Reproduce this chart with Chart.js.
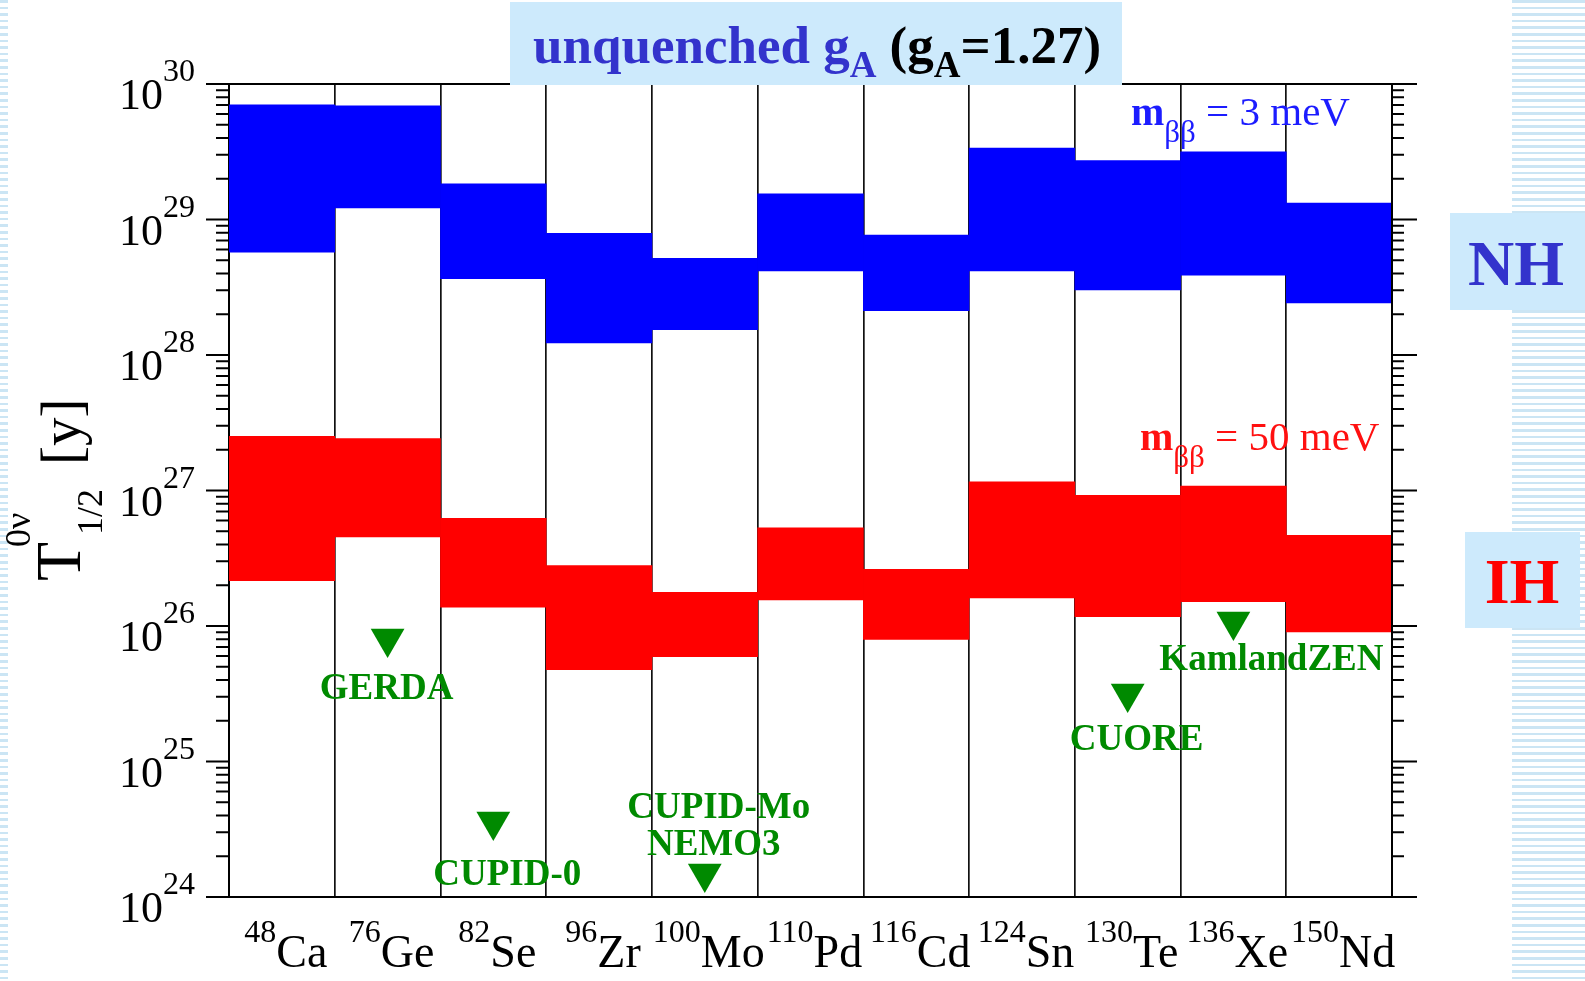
<!DOCTYPE html>
<html>
<head>
<meta charset="utf-8">
<script src="https://cdn.jsdelivr.net/npm/chart.js@4.4.1/dist/chart.umd.min.js"></script>
<style>
  html, body { margin: 0; padding: 0; background: #fff; }
  #wrap { position: relative; width: 1585px; height: 981px; overflow: hidden; background: #fff; }
  .stripes {
    position: absolute; top: 0; height: 981px;
    background: repeating-linear-gradient(to bottom, #cbe5f4 0px, #cbe5f4 2.6px, #ffffff 2.6px, #ffffff 6.6px);
  }
  #stripeLeft { left: 0; width: 8px; }
  #stripeRight { left: 1512px; width: 73px; }
  canvas { position: absolute; left: 0; top: 0; }
</style>
</head>
<body>
<div id="wrap">
  <div class="stripes" id="stripeLeft"></div>
  <div class="stripes" id="stripeRight"></div>
  <canvas id="c" width="1585" height="981"></canvas>
</div>
<script>
// Isotopes (mass number + element symbol)
const massNumbers = ['48', '76', '82', '96', '100', '110', '116', '124', '130', '136', '150'];
const elements    = ['Ca', 'Ge', 'Se', 'Zr', 'Mo', 'Pd', 'Cd', 'Sn', 'Te', 'Xe', 'Nd'];
const isotopes = elements.map((el, i) => massNumbers[i] + el);

// Normal hierarchy band, m_bb = 3 meV: half-life range in years
const nhLow  = [5.75e28, 1.22e29, 3.66e28, 1.23e28, 1.54e28, 4.17e28, 2.12e28, 4.17e28, 3.02e28, 3.89e28, 2.42e28];
const nhHigh = [7.03e29, 6.89e29, 1.83e29, 7.89e28, 5.16e28, 1.55e29, 7.69e28, 3.37e29, 2.72e29, 3.16e29, 1.32e29];

// Inverted hierarchy band, m_bb = 50 meV
const ihLow  = [2.16e26, 4.54e26, 1.38e26, 4.76e25, 5.93e25, 1.56e26, 7.96e25, 1.61e26, 1.17e26, 1.51e26, 9.06e25];
const ihHigh = [2.51e27, 2.42e27, 6.22e26, 2.79e26, 1.77e26, 5.31e26, 2.62e26, 1.16e27, 9.20e26, 1.08e27, 4.66e26];

// Experimental lower limits
const limitValues = [null, 8.1e25, 3.6e24, null, 1.49e24, null, null, null, 3.18e25, 1.08e26, null];
const limitNames  = [null, ['GERDA'], ['CUPID-0'], null, ['CUPID-Mo', 'NEMO3'], null, null, null, ['CUORE'], ['KamlandZEN'], null];

// Decade exponents of the y axis
const yExponents = [24, 25, 26, 27, 28, 29, 30];

const SERIF = '"Liberation Serif", "Times New Roman", serif';
const fnt = (size, bold) => (bold ? 'bold ' : '') + size + 'px ' + SERIF;

function drawRun(ctx, x, y, pieces) {
  let cx = x;
  for (const p of pieces) {
    ctx.font = fnt(p.size, p.bold);
    ctx.fillStyle = p.color;
    ctx.fillText(p.text, cx, y + (p.dy || 0));
    cx += ctx.measureText(p.text).width;
  }
  return cx;
}

// label placement around each limit marker: [dx, dy] per line
const limitLabelOffsets = {
  1: [[-1, 61]],
  2: [[14, 63]],
  4: [[14, -56], [9, -19]],
  8: [[9, 57]],
  9: [[38, 49]]
};

const decorations = {
  id: 'decorations',
  afterDraw(chart) {
    const { ctx, chartArea: a, scales: { x, y } } = chart;
    ctx.save();
    ctx.textBaseline = 'alphabetic';
    ctx.textAlign = 'left';

    // frame (top, right, bottom extensions) and log ticks on both sides
    ctx.strokeStyle = '#000';
    ctx.lineWidth = 2;
    ctx.beginPath();
    ctx.moveTo(a.left - 23, a.top); ctx.lineTo(a.right + 25, a.top);
    ctx.moveTo(a.right, a.top); ctx.lineTo(a.right, a.bottom);
    ctx.moveTo(a.left - 23, a.bottom); ctx.lineTo(a.right + 25, a.bottom);
    for (let e = yExponents[0]; e < yExponents[yExponents.length - 1]; e++) {
      for (let k = 1; k <= 9; k++) {
        const py = y.getPixelForValue(k * Math.pow(10, e));
        const major = k === 1;
        ctx.moveTo(a.left - (major ? 23 : 13), py); ctx.lineTo(a.left, py);
        ctx.moveTo(a.right, py); ctx.lineTo(a.right + (major ? 25 : 12), py);
      }
    }
    ctx.stroke();

    // y tick labels 10^n
    ctx.fillStyle = '#000';
    for (const e of yExponents) {
      const py = y.getPixelForValue(Math.pow(10, e));
      ctx.font = fnt(32, false);
      const supW = ctx.measureText(String(e)).width;
      ctx.font = fnt(44, false);
      const mainW = ctx.measureText('10').width;
      const x0 = a.left - 34 - supW - mainW;
      ctx.fillText('10', x0, py + 25);
      ctx.font = fnt(32, false);
      ctx.fillText(String(e), x0 + mainW, py - 3);
    }

    // isotope labels
    for (let i = 0; i < isotopes.length; i++) {
      const cx = x.getPixelForValue(i);
      ctx.font = fnt(32, false);
      const supW = ctx.measureText(massNumbers[i]).width;
      ctx.font = fnt(46, false);
      const mainW = ctx.measureText(elements[i]).width;
      const x0 = cx - (supW + mainW) / 2 + 4;
      drawRun(ctx, x0, a.bottom + 70, [
        { text: massNumbers[i], size: 32, color: '#000', dy: -25 },
        { text: elements[i], size: 46, color: '#000' }
      ]);
    }

    // y axis title: T^{0v}_{1/2} [y]
    ctx.save();
    ctx.translate(80, 581);
    ctx.rotate(-Math.PI / 2);
    ctx.fillStyle = '#000';
    ctx.font = fnt(64, false);
    ctx.fillText('T', 0, 0);
    ctx.font = fnt(36, false);
    ctx.fillText('0\u03BD', 34, -50);
    ctx.font = fnt(36, false);
    ctx.fillText('1/2', 46, 22);
    ctx.font = fnt(57, false);
    ctx.fillText('[y]', 116, 0);
    ctx.restore();

    // limit labels
    ctx.font = fnt(37, true);
    ctx.fillStyle = '#008a00';
    ctx.textAlign = 'center';
    const meta = chart.getDatasetMeta(2);
    limitNames.forEach((names, i) => {
      if (!names) return;
      const pt = meta.data[i];
      names.forEach((name, j) => {
        const [dx, dy] = limitLabelOffsets[i][j];
        ctx.fillText(name, pt.x + dx, pt.y + dy);
      });
    });
    ctx.textAlign = 'left';

    // band annotations
    drawRun(ctx, 1131, 125, [
      { text: 'm', size: 40, bold: true, color: '#1c1cff' },
      { text: '\u03B2\u03B2', size: 31, color: '#1c1cff', dy: 17 },
      { text: ' = 3 meV', size: 41, color: '#1c1cff' }
    ]);
    drawRun(ctx, 1140, 450, [
      { text: 'm', size: 40, bold: true, color: '#ff1010' },
      { text: '\u03B2\u03B2', size: 31, color: '#ff1010', dy: 17 },
      { text: ' = 50 meV', size: 41, color: '#ff1010' }
    ]);

    // title box
    ctx.fillStyle = '#cdeafc';
    ctx.fillRect(510, 2, 612, 83);
    drawRun(ctx, 533, 63, [
      { text: 'unquenched g', size: 53, bold: true, color: '#3333cc' },
      { text: 'A', size: 37, bold: true, color: '#3333cc', dy: 14 },
      { text: ' (g', size: 53, bold: true, color: '#000' },
      { text: 'A', size: 37, bold: true, color: '#000', dy: 14 },
      { text: '=1.27)', size: 53, bold: true, color: '#000' }
    ]);

    // hierarchy tags
    ctx.fillStyle = '#cdeafc';
    ctx.fillRect(1450, 213, 135, 97);
    ctx.fillRect(1465, 532, 115, 96);
    ctx.textAlign = 'center';
    ctx.font = fnt(64, true);
    ctx.fillStyle = '#3333cc';
    ctx.fillText('NH', 1516, 285);
    ctx.fillStyle = '#ff0000';
    ctx.fillText('IH', 1522, 603);
    ctx.restore();
  }
};

new Chart(document.getElementById('c'), {
  type: 'bar',
  data: {
    labels: isotopes,
    datasets: [
      {
        label: 'NH (m_bb = 3 meV)',
        data: nhLow.map((lo, i) => [lo, nhHigh[i]]),
        backgroundColor: '#0000ff',
        borderWidth: 0,
        grouped: false,
        barPercentage: 1,
        categoryPercentage: 1,
        order: 2
      },
      {
        label: 'IH (m_bb = 50 meV)',
        data: ihLow.map((lo, i) => [lo, ihHigh[i]]),
        backgroundColor: '#ff0000',
        borderWidth: 0,
        grouped: false,
        barPercentage: 1,
        categoryPercentage: 1,
        order: 2
      },
      {
        type: 'line',
        label: 'limits',
        data: limitValues,
        showLine: false,
        pointStyle: 'triangle',
        rotation: 180,
        pointRadius: 19.5,
        pointBackgroundColor: '#008a00',
        pointBorderWidth: 0,
        order: 0
      }
    ]
  },
  options: {
    responsive: false,
    animation: false,
    devicePixelRatio: 1,
    layout: { padding: { top: 84, right: 193, left: 0, bottom: 0 } },
    plugins: { legend: { display: false }, tooltip: { enabled: false } },
    scales: {
      x: {
        offset: true,
        z: 1,
        grid: { offset: true, color: '#111', lineWidth: 1.7, drawTicks: false },
        border: { display: true, color: '#000', width: 2 },
        ticks: { display: false },
        afterFit(s) { s.height = 84; }
      },
      y: {
        type: 'logarithmic',
        min: 1e24,
        max: 1e30,
        z: 1,
        grid: { display: false },
        border: { display: true, color: '#000', width: 2 },
        ticks: { display: false },
        afterFit(s) { s.width = 229; }
      }
    }
  },
  plugins: [decorations]
});
</script>
</body>
</html>
